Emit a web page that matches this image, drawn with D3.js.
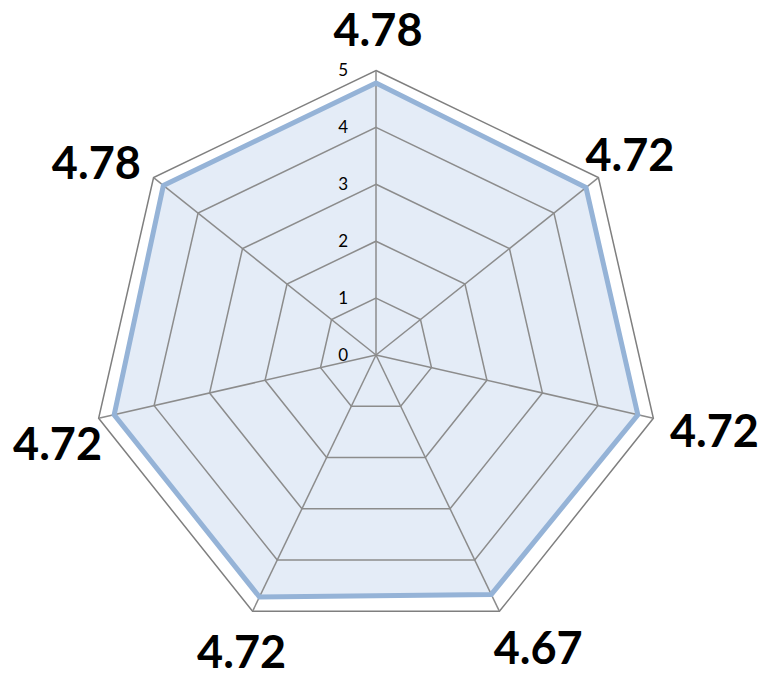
<!DOCTYPE html>
<html>
<head>
<meta charset="utf-8">
<script src="https://cdn.jsdelivr.net/npm/d3@7"></script>
<style>
  html, body { margin: 0; padding: 0; background: #fff; }
</style>
</head>
<body>
<svg id="chart"></svg>
<script>
// values clockwise from the top spoke
const axes = ["A", "B", "C", "D", "E", "F", "G"];
const values = [4.78, 4.72, 4.72, 4.67, 4.72, 4.72, 4.78];
const valueLabels = ["4.78", "4.72", "4.72", "4.67", "4.72", "4.72", "4.78"];
const tickValues = [0, 1, 2, 3, 4, 5];

const width = 767;
const height = 693;
const cx = 376;
const cy = 355;
const radius = 284.5;
// small tweaks so the big labels sit like the original ones
const labelNudge = [[2, 2], [1, 2], [23, 4], [23, 4], [6, 5], [-3, 17], [-24, 12]];

const svg = d3.select("#chart")
  .attr("width", width)
  .attr("height", height);

const r = d3.scaleLinear().domain([0, 5]).range([0, radius]);
const angle = d3.scaleLinear().domain([0, axes.length]).range([0, 2 * Math.PI]);

const pt = (i, v) => {
  const a = angle(i);
  return [cx + r(v) * Math.sin(a), cy - r(v) * Math.cos(a)];
};

const g = svg.append("g");

// data area fill (under the grid)
const ring = v => axes.map((d, i) => pt(i, v));
const closed = d3.line().curve(d3.curveLinearClosed);

g.append("path")
  .attr("d", closed(values.map((v, i) => pt(i, v))))
  .attr("fill", "#e4ecf7");

// grid rings
g.selectAll("path.grid")
  .data(tickValues.slice(1))
  .join("path")
  .attr("class", "grid")
  .attr("d", v => closed(ring(v)))
  .attr("fill", "none")
  .attr("stroke", d => d === 5 ? "#7f7f7f" : "#8c8c8c")
  .attr("stroke-width", 1.5);

// spokes
g.selectAll("line.spoke")
  .data(axes)
  .join("line")
  .attr("class", "spoke")
  .attr("x1", cx)
  .attr("y1", cy)
  .attr("x2", (d, i) => pt(i, 5)[0])
  .attr("y2", (d, i) => pt(i, 5)[1])
  .attr("stroke", "#8c8c8c")
  .attr("stroke-width", 1.5);

// data line
g.append("path")
  .attr("d", closed(values.map((v, i) => pt(i, v))))
  .attr("fill", "none")
  .attr("stroke", "#95b3d7")
  .attr("stroke-width", 5)
  .attr("stroke-linejoin", "miter");

// tick labels
g.selectAll("text.tick")
  .data(tickValues)
  .join("text")
  .attr("class", "tick")
  .attr("x", cx - 28)
  .attr("y", d => cy - r(d))
  .attr("dy", "0.35em")
  .attr("text-anchor", "end")
  .attr("font-family", "Lato, 'Open Sans', sans-serif")
  .attr("font-size", 17)
  .attr("fill", "#000")
  .text(d => d);

// value labels
g.selectAll("text.val")
  .data(values)
  .join("text")
  .attr("class", "val")
  .attr("x", (v, i) => {
    const p = pt(i, v);
    return p[0] + 55 * Math.sin(angle(i)) + labelNudge[i][0];
  })
  .attr("y", (v, i) => {
    const p = pt(i, v);
    return p[1] - 55 * Math.cos(angle(i)) + labelNudge[i][1];
  })
  .attr("dy", "0.36em")
  .attr("text-anchor", "middle")
  .attr("font-family", "Lato, 'Open Sans', sans-serif")
  .attr("font-weight", "bold")
  .attr("font-size", 45)
  .attr("fill", "#000")
  .text((v, i) => valueLabels[i]);
</script>
</body>
</html>
